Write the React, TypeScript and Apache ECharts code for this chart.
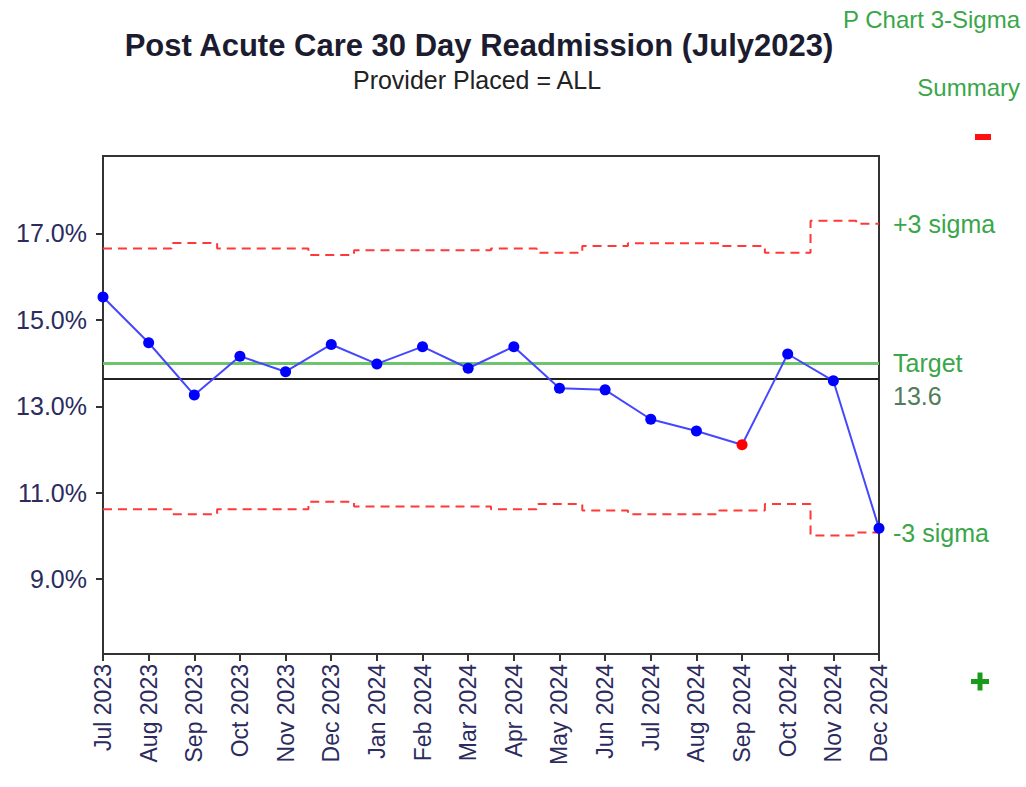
import React, { useEffect, useRef } from 'react';
import * as echarts from 'echarts';

const months = [
  'Jul 2023', 'Aug 2023', 'Sep 2023', 'Oct 2023', 'Nov 2023', 'Dec 2023',
  'Jan 2024', 'Feb 2024', 'Mar 2024', 'Apr 2024', 'May 2024', 'Jun 2024',
  'Jul 2024', 'Aug 2024', 'Sep 2024', 'Oct 2024', 'Nov 2024', 'Dec 2024',
];
const rate = [15.53, 14.47, 13.26, 14.16, 13.8, 14.43, 13.98, 14.38, 13.88, 14.38, 13.42, 13.38, 12.7, 12.43, 12.11, 14.21, 13.59, 10.18];
const ucl = [16.65, 16.65, 16.78, 16.65, 16.65, 16.5, 16.61, 16.61, 16.61, 16.65, 16.55, 16.71, 16.77, 16.77, 16.71, 16.55, 17.29, 17.22];
const lcl = [10.62, 10.62, 10.5, 10.62, 10.62, 10.79, 10.68, 10.68, 10.68, 10.62, 10.74, 10.59, 10.5, 10.5, 10.59, 10.74, 10.01, 10.08];
const flagged = ['Sep 2024'];
const TARGET = 14.0;
const CENTER = 13.63;
const CENTER_LABEL = '13.6';
const yTicks = [9, 11, 13, 15, 17];
const Y_MIN = 7.27;
const Y_MAX = 18.79;

const FONT = "'Liberation Sans', Arial, sans-serif";
const GREEN = '#3aa64a';
const AXIS_TEXT = '#2b2b5e';

export default function App() {
  const ref = useRef<HTMLDivElement>(null);
  useEffect(() => {
    const chart = echarts.init(ref.current!, null, { renderer: 'svg' });
    const option: any = {
      animation: false,
      backgroundColor: '#ffffff',
      grid: {
        left: 103, right: 147, top: 156, bottom: 133,
        show: true, borderColor: '#333', borderWidth: 2, backgroundColor: 'transparent',
      },
      xAxis: {
        type: 'category',
        data: months,
        boundaryGap: false,
        axisLine: { show: true, lineStyle: { color: '#333', width: 2 } },
        axisTick: { show: true, length: 7, interval: 0, lineStyle: { color: '#333', width: 2 } },
        axisLabel: { rotate: 90, interval: 0, fontSize: 23, color: AXIS_TEXT, fontFamily: FONT, margin: 10 },
        splitLine: { show: false },
      },
      yAxis: {
        type: 'value',
        min: Y_MIN,
        max: Y_MAX,
        axisLine: { show: true, lineStyle: { color: '#333', width: 2 } },
        axisTick: { show: true, length: 7, customValues: yTicks, lineStyle: { color: '#333', width: 2 } },
        axisLabel: {
          customValues: yTicks,
          formatter: (v: number) => v.toFixed(1) + '%',
          fontSize: 25, color: AXIS_TEXT, fontFamily: FONT, margin: 16,
        },
        splitLine: { show: false },
      },
      series: [
        {
          name: 'UCL', type: 'line', step: 'middle', data: ucl, symbol: 'none', z: 3,
          lineStyle: { color: '#ff3838', width: 2, type: [9, 6] },
          endLabel: { show: true, formatter: '+3 sigma', distance: 14, color: GREEN, fontSize: 25, fontFamily: FONT },
        },
        {
          name: 'LCL', type: 'line', step: 'middle', data: lcl, symbol: 'none', z: 3,
          lineStyle: { color: '#ff3838', width: 2, type: [9, 6] },
          endLabel: { show: true, formatter: '-3 sigma', distance: 14, color: GREEN, fontSize: 25, fontFamily: FONT },
        },
        {
          name: 'Rate', type: 'line', z: 5,
          data: rate.map((v, i) => (flagged.includes(months[i]) ? { value: v, itemStyle: { color: '#ff0000' } } : v)),
          symbol: 'circle', symbolSize: 11,
          itemStyle: { color: '#0000ff' },
          lineStyle: { color: '#4646ff', width: 2 },
          markLine: {
            symbol: 'none', silent: true, z: 2,
            data: [
              {
                yAxis: TARGET,
                lineStyle: { color: '#6cc46c', width: 3, type: 'solid' },
                label: { show: true, position: 'end', formatter: 'Target', distance: 14, color: GREEN, fontSize: 25, fontFamily: FONT, lineHeight: 28 },
              },
              {
                yAxis: CENTER,
                lineStyle: { color: '#222', width: 2, type: 'solid' },
                label: { show: true, position: 'end', formatter: '\n\n' + CENTER_LABEL, distance: 14, lineHeight: 17, color: '#4f7d58', fontSize: 25, fontFamily: FONT },
              },
            ],
          },
        },
      ],
      graphic: [
        {
          type: 'text', x: 479, y: 45,
          style: { text: 'Post Acute Care 30 Day Readmission (July2023)', fill: '#1c1c30', fontSize: 31, fontWeight: 'bold', fontFamily: FONT, textAlign: 'center', textVerticalAlign: 'middle' },
        },
        {
          type: 'text', x: 477, y: 80,
          style: { text: 'Provider Placed = ALL', fill: '#222', fontSize: 25, fontFamily: FONT, textAlign: 'center', textVerticalAlign: 'middle' },
        },
        {
          type: 'text', x: 1020, y: 19,
          style: { text: 'P Chart 3-Sigma', fill: GREEN, fontSize: 24, fontFamily: FONT, textAlign: 'right', textVerticalAlign: 'middle' },
        },
        {
          type: 'text', x: 1020, y: 87,
          style: { text: 'Summary', fill: GREEN, fontSize: 24, fontFamily: FONT, textAlign: 'right', textVerticalAlign: 'middle' },
        },
        { type: 'rect', shape: { x: 975, y: 134, width: 16, height: 6 }, style: { fill: '#ff1010' } },
        { type: 'rect', shape: { x: 971, y: 679, width: 18, height: 5 }, style: { fill: '#1a9a1a' } },
        { type: 'rect', shape: { x: 977.5, y: 672.5, width: 5, height: 18 }, style: { fill: '#1a9a1a' } },
      ],
    };
    chart.setOption(option);
    return () => chart.dispose();
  }, []);
  return <div ref={ref} style={{ position: 'fixed', left: 0, top: 0, width: 1026, height: 787 }} />;
}
